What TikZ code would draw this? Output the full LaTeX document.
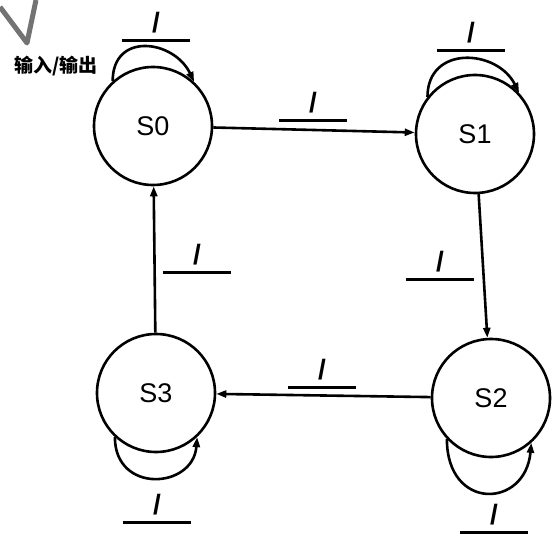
\documentclass[tikz,border=0pt]{standalone}
\usepackage{fontspec}
\newfontfamily\statefont{Liberation Sans}
\newfontfamily\cjk{Noto Sans CJK SC}
\usetikzlibrary{arrows.meta}

\begin{document}
\begin{tikzpicture}[x=1pt, y=1pt, >={Triangle[length=10pt, width=7pt]},
  state/.style={circle, draw, line width=2.6pt, minimum size=118pt, inner sep=0pt, font=\statefont\fontsize{27}{27}\selectfont},
  slot/.style={minimum width=68pt, minimum height=34pt, inner sep=0pt, font=\statefont\bfseries\fontsize{28}{28}\selectfont},
  trans/.style={->, line width=2.6pt},
  blank/.style={line width=3pt}]
  \useasboundingbox (0,0) rectangle (557,539);
  % states
  \node[state] (s0) at (153,413) {S0};
  \node[state] (s1) at (475,405) {S1};
  \node[state] (s2) at (491,141) {S2};
  \node[state] (s3) at (156,146) {S3};
  % transitions
  \draw[trans] (s0) -- (s1);
  \draw[trans] (s1) -- (s2);
  \draw[trans] (s2) -- (s3);
  \draw[trans] (s3) -- (s0);
  % self loops
  \draw[trans] (s0.132) .. controls +(0,50) and +(-20,42) .. (s0.47);
  \draw[trans] (s1.142) .. controls +(0,52) and +(-22,44) .. (s1.43);
  \draw[trans] (s2.223) .. controls +(0,-72) and +(-6,-66) .. (s2.312);
  \draw[trans] (s3.227) .. controls +(0,-57) and +(-4,-52) .. (s3.313);
  % input/output blanks
  \node[slot] (l00) at (156,516) {/};
  \node[slot] (l01) at (313,436) {/};
  \node[slot] (l11) at (471,506) {/};
  \node[slot] (l12) at (440,277) {/};
  \node[slot] (l22) at (494,24) {/};
  \node[slot] (l23) at (322,169) {/};
  \node[slot] (l30) at (197,284) {/};
  \node[slot] (l33) at (157,34) {/};
  \foreach \l in {l00,l01,l11,l12,l22,l23,l30,l33}
    \draw[blank] (\l.south west) -- (\l.south east);
  % legend
  \node[font=\cjk\bfseries\fontsize{19}{19}\selectfont] (io) at (56,473) {输入/输出};
  \coordinate (tick) at (27,496);
  \draw[line width=5pt, black!55, line join=round] (0,532) -- (tick) -- (36,539);
\end{tikzpicture}
\end{document}
